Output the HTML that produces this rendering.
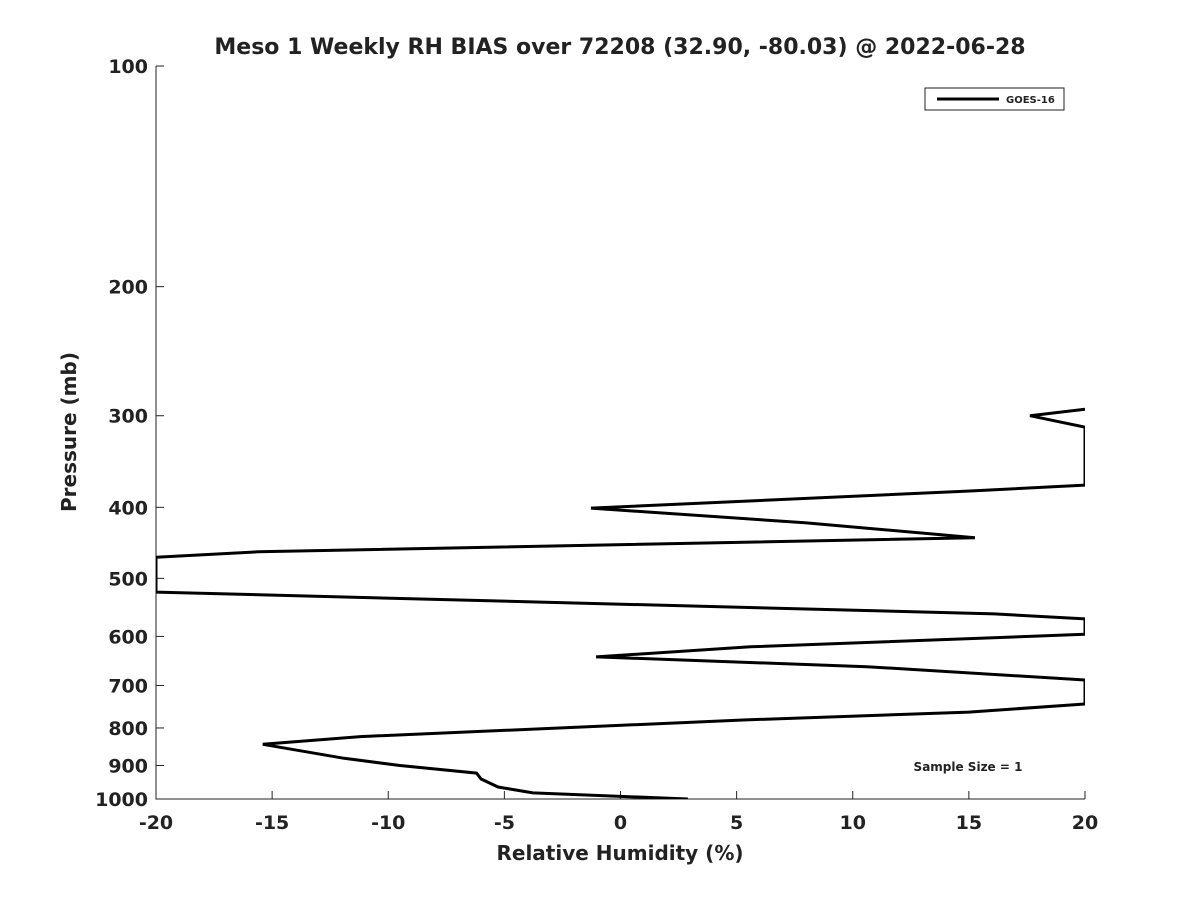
<!DOCTYPE html>
<html><head><meta charset="utf-8"><style>
body{margin:0;background:#fff}
svg text{font-family:"DejaVu Sans","Liberation Sans",sans-serif;font-weight:bold;fill:#222}
</style></head><body>
<svg id="chart" width="1200" height="900" xmlns="http://www.w3.org/2000/svg">
<rect width="1200" height="900" fill="#fff"/>
<text x="620" y="54" font-size="22" text-anchor="middle">Meso 1 Weekly RH BIAS over 72208 (32.90, -80.03) @ 2022-06-28</text>
<defs><clipPath id="plotclip"><rect x="156" y="66" width="929" height="733"/></clipPath></defs>
<g id="axes"></g>
<g id="series" clip-path="url(#plotclip)"></g>
<text x="620" y="860" font-size="20" text-anchor="middle">Relative Humidity (%)</text>
<text transform="translate(76,432) rotate(-90)" font-size="20" text-anchor="middle">Pressure (mb)</text>
<g>
<rect x="925" y="88" width="139" height="22" fill="#fff" stroke="#222" stroke-width="1"/>
<line x1="937" y1="99" x2="999" y2="99" stroke="#000" stroke-width="3"/>
<text x="1006" y="103" font-size="10">GOES-16</text>
</g>
<text x="968" y="771" font-size="12" text-anchor="middle">Sample Size = 1</text>
</svg>
<script>
const xTicks=[-20,-15,-10,-5,0,5,10,15,20];
const yTicks=[100,200,300,400,500,600,700,800,900,1000];
const rhBias=[2.9,-3.77,-5.27,-6.0,-6.2,-9.5,-11.9,-15.4,-11.2,5.4,15.0,20,20,10.6,-1.05,5.6,20,20,16.1,-20,-20,-15.6,15.26,7.94,-1.27,15.05,20,20,17.63,20];
const pressure=[1000,981,963,939,922,900,880,842,822,780,761,742,688,660,640,620,596,568,559,522,468,460,440,420,401,380,373,311,300,294];
const X0=156,X1=1085,Y0=66,Y1=799;
const xs=v=>X0+(v+20)/40*(X1-X0);
const ys=p=>Y0+(Math.log10(p)-2)*(Y1-Y0);
const NS="http://www.w3.org/2000/svg";
const axes=document.getElementById('axes');
function mk(tag,attrs,parent){const e=document.createElementNS(NS,tag);for(const k in attrs)e.setAttribute(k,attrs[k]);parent.appendChild(e);return e;}
const ax=mk('path',{d:`M${X0},${Y0}V${Y1}H${X1}`,fill:'none',stroke:'#222','stroke-width':1},axes);


xTicks.forEach(t=>{
 const x=xs(t);
 const l=mk('line',{x1:x,x2:x,y1:Y1,y2:Y1-8,stroke:'#222'},axes);
 
 
 const tx=mk('text',{x:x,y:Y1+30,'font-size':19,'text-anchor':'middle'},axes);
 tx.textContent=t;
 
 
});
yTicks.forEach(t=>{
 const y=ys(t);
 const l=mk('line',{x1:X0,x2:X0+8,y1:y,y2:y,stroke:'#222'},axes);
 
 
 const tx=mk('text',{x:X0-8,y:y+7,'font-size':19,'text-anchor':'end'},axes);
 tx.textContent=t;
 
 
});
const d=rhBias.map((v,i)=>(i?'L':'M')+xs(v).toFixed(1)+','+ys(pressure[i]).toFixed(1)).join('');
const line=mk('path',{d:d,fill:'none',stroke:'#000','stroke-width':3,'stroke-linejoin':'miter'},document.getElementById('series'));


</script>
</body></html>
